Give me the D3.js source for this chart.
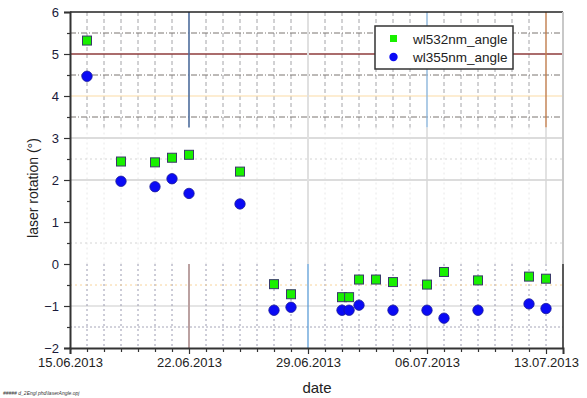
<!DOCTYPE html>
<html>
<head>
<meta charset="utf-8">
<script src="https://cdn.jsdelivr.net/npm/d3@7"></script>
<style>
  html, body { margin: 0; padding: 0; background: #fff; }
  svg { display: block; font-family: "Liberation Sans", Arial, sans-serif; }
</style>
</head>
<body>
<svg id="chart" width="587" height="398"></svg>
<script>
// Measurement dates (two runs on 01.07)
const dates = [
  "2013-06-16T00:00", "2013-06-18T00:00", "2013-06-20T00:00", "2013-06-21T00:00",
  "2013-06-22T00:00", "2013-06-25T00:00", "2013-06-27T00:00", "2013-06-28T00:00",
  "2013-07-01T00:00", "2013-07-01T10:00", "2013-07-02T00:00", "2013-07-03T00:00",
  "2013-07-04T00:00", "2013-07-06T00:00", "2013-07-07T00:00", "2013-07-09T00:00",
  "2013-07-12T00:00", "2013-07-13T00:00"
];
// Laser rotation angle (degrees), 532 nm channel
const wl532 = [5.32, 2.44, 2.42, 2.53, 2.60, 2.20, -0.48, -0.72, -0.79, -0.79, -0.37, -0.37,
               -0.43, -0.49, -0.19, -0.39, -0.30, -0.35];
// Laser rotation angle (degrees), 355 nm channel
const wl355 = [4.47, 1.97, 1.84, 2.03, 1.68, 1.43, -1.10, -1.03, -1.10, -1.10, -0.98, null,
               -1.10, -1.10, -1.29, -1.10, -0.95, -1.06];
const seriesNames = ["wl532nm_angle", "wl355nm_angle"];
const xTickLabels = ["15.06.2013", "22.06.2013", "29.06.2013", "06.07.2013", "13.07.2013"];
const yTickValues = [-2, -1, 0, 1, 2, 3, 4, 5, 6];

const parse = d3.timeParse("%Y-%m-%dT%H:%M");
const fmt = d3.timeFormat("%d.%m.%Y");
const svg = d3.select("#chart");

const plotL = 70, plotR = 563, plotT = 12, plotB = 348;
const x = d3.scaleTime()
  .domain([parse("2013-06-15T00:00"), parse("2013-07-14T00:00")])
  .range([plotL, plotR]);
const y = d3.scaleLinear().domain([-2, 6]).range([plotB, plotT]);

const days = d3.timeDay.range(parse("2013-06-16T00:00"), parse("2013-07-14T00:00"));
const weeks = xTickLabels.map(s => d3.timeParse("%d.%m.%Y")(s));
const isWeek = d => weeks.some(w => +w === +d);

const grid = svg.append("g").attr("fill", "none");
function hline(v, v0, v1, color, width, dash) {
  grid.append("line")
    .attr("x1", x(v0)).attr("x2", x(v1)).attr("y1", y(v)).attr("y2", y(v))
    .attr("stroke", color).attr("stroke-width", width)
    .attr("stroke-dasharray", dash || null);
}
function vline(d, a, b, color, width, dash) {
  grid.append("line")
    .attr("x1", x(d)).attr("x2", x(d)).attr("y1", y(a)).attr("y2", y(b))
    .attr("stroke", color).attr("stroke-width", width)
    .attr("stroke-dasharray", dash || null);
}
const xStart = x.domain()[0], xEnd = x.domain()[1];

// middle band: faint dotted grid
days.forEach(d => { if (!isWeek(d)) vline(d, 3.25, 0, "#e8e8e8", 1, "2,3"); });
[2.5, 0.5].forEach(v => hline(v, xStart, xEnd, "#d4d4d4", 1, "2,3"));
[3, 2].forEach(v => hline(v, xStart, xEnd, "#dcdcdc", 2));
hline(-1, xStart, xEnd, "#cccccc", 1.2);

// upper band: dashed day lines and dash-dot half-degree lines
days.forEach(d => { if (!isWeek(d)) vline(d, 6, 3.25, "#a4a4a8", 1, "4,3"); });
[5.5, 4.5, 3.5].forEach(v => hline(v, xStart, xEnd, "#7a7470", 1, "6,2,1,2"));
hline(4, xStart, xEnd, "#fcdca6", 1.2);
hline(5, xStart, xEnd, "#8e3b3b", 1.6);

// lower band: dotted day lines
days.forEach(d => { if (!isWeek(d)) vline(d, 0, -2, "#9a9ab0", 1, "2,3"); });
hline(-0.5, xStart, xEnd, "#f8d49c", 1, "2,3");
hline(-1.5, xStart, xEnd, "#a6a6b8", 1, "2,2");

// weekly lines
vline(weeks[1], 6, 3.25, "#4d6c9c", 1.6);
vline(weeks[1], 0, -2, "#bba1a1", 2);
vline(weeks[2], 6, 0, "#e0e0e0", 2);
vline(weeks[2], 0, -2, "#4f95d4", 1.2);
vline(weeks[3], 6, 3.25, "#8cb6dc", 1.4);
vline(weeks[3], 3.25, -2, "#d6d6d6", 1.4);
vline(weeks[4], 6, 3.25, "#c17d4c", 1.4);
vline(weeks[4], 3.25, 0, "#d6d6d6", 1.4);
vline(weeks[4], 0, -2, "#9a9ab0", 1, "2,3");

// frame
svg.append("line").attr("x1", plotL).attr("x2", plotR).attr("y1", plotT).attr("y2", plotT)
  .attr("stroke", "#222").attr("stroke-width", 1.5);
svg.append("line").attr("x1", plotR).attr("x2", plotR).attr("y1", plotT).attr("y2", y(0))
  .attr("stroke", "#c8c8c8").attr("stroke-width", 2);
svg.append("line").attr("x1", plotR).attr("x2", plotR).attr("y1", y(0)).attr("y2", plotB)
  .attr("stroke", "#222").attr("stroke-width", 1.5);

// y axis
const yAxis = svg.append("g").attr("transform", `translate(${plotL},0)`)
  .call(d3.axisLeft(y).tickValues(yTickValues).tickFormat(d3.format("d"))
    .tickSize(6).tickPadding(5));
svg.append("g").attr("transform", `translate(${plotL},0)`)
  .call(d3.axisLeft(y).tickValues(d3.range(-1.5, 6, 1)).tickSize(3).tickFormat(""))
  .call(g => g.select(".domain").remove());

// x axis
const xAxis = svg.append("g").attr("transform", `translate(0,${plotB})`)
  .call(d3.axisBottom(x).tickValues(weeks).tickFormat(fmt).tickSize(6).tickPadding(4));
svg.append("g").attr("transform", `translate(0,${plotB})`)
  .call(d3.axisBottom(x).tickValues(days.filter(d => !isWeek(d))).tickSize(4).tickFormat(""))
  .call(g => g.select(".domain").remove());

svg.selectAll(".domain").attr("stroke", "#333").attr("stroke-width", 2);
svg.selectAll(".tick line").attr("stroke", "#333").attr("stroke-width", 1.2);
yAxis.selectAll("text").attr("font-size", 13).attr("fill", "#1a1a3a")
  .attr("font-family", "Liberation Sans, Arial, sans-serif");
xAxis.selectAll("text").attr("font-size", 13).attr("fill", "#222")
  .attr("font-family", "Liberation Sans, Arial, sans-serif");

// axis titles
svg.append("text").attr("transform", "translate(38,188) rotate(-90)")
  .attr("text-anchor", "middle").attr("font-size", 14).attr("fill", "#222")
  .text("laser rotation (°)");
svg.append("text").attr("x", 317).attr("y", 393)
  .attr("text-anchor", "middle").attr("font-size", 15).attr("fill", "#222")
  .text("date");

// data points
const rows = dates.map((d, i) => ({ t: parse(d), g: wl532[i], b: wl355[i] }));
svg.append("g").selectAll("rect").data(rows.filter(r => r.g != null)).join("rect")
  .attr("x", r => x(r.t) - 4.5).attr("y", r => y(r.g) - 4.5)
  .attr("width", 9).attr("height", 9)
  .attr("fill", "#19f000").attr("stroke", "#3a3a6a").attr("stroke-width", 1);
svg.append("g").selectAll("circle").data(rows.filter(r => r.b != null)).join("circle")
  .attr("cx", r => x(r.t)).attr("cy", r => y(r.b)).attr("r", 5.2)
  .attr("fill", "#0a0af5").attr("stroke", "#1a1a9a").attr("stroke-width", 0.8);

// legend
const lg = svg.append("g");
lg.append("rect").attr("x", 375).attr("y", 26).attr("width", 138).attr("height", 43)
  .attr("fill", "#fff").attr("stroke", "#333").attr("stroke-width", 1.5);
lg.append("rect").attr("x", 390).attr("y", 35).attr("width", 7).attr("height", 7)
  .attr("fill", "#19f000");
lg.append("circle").attr("cx", 393.5).attr("cy", 57).attr("r", 4.2).attr("fill", "#0a0af5");
seriesNames.forEach((n, i) => {
  lg.append("text").attr("x", 413).attr("y", 44 + i * 18)
    .attr("font-size", 13.5).attr("fill", "#222").text(n);
});

// file tag
svg.append("text").attr("x", 3).attr("y", 395).attr("font-size", 5)
  .attr("font-style", "italic").attr("fill", "#333")
  .text("##### d_2Engl phd\\laserAngle.opj");
</script>
</body>
</html>
